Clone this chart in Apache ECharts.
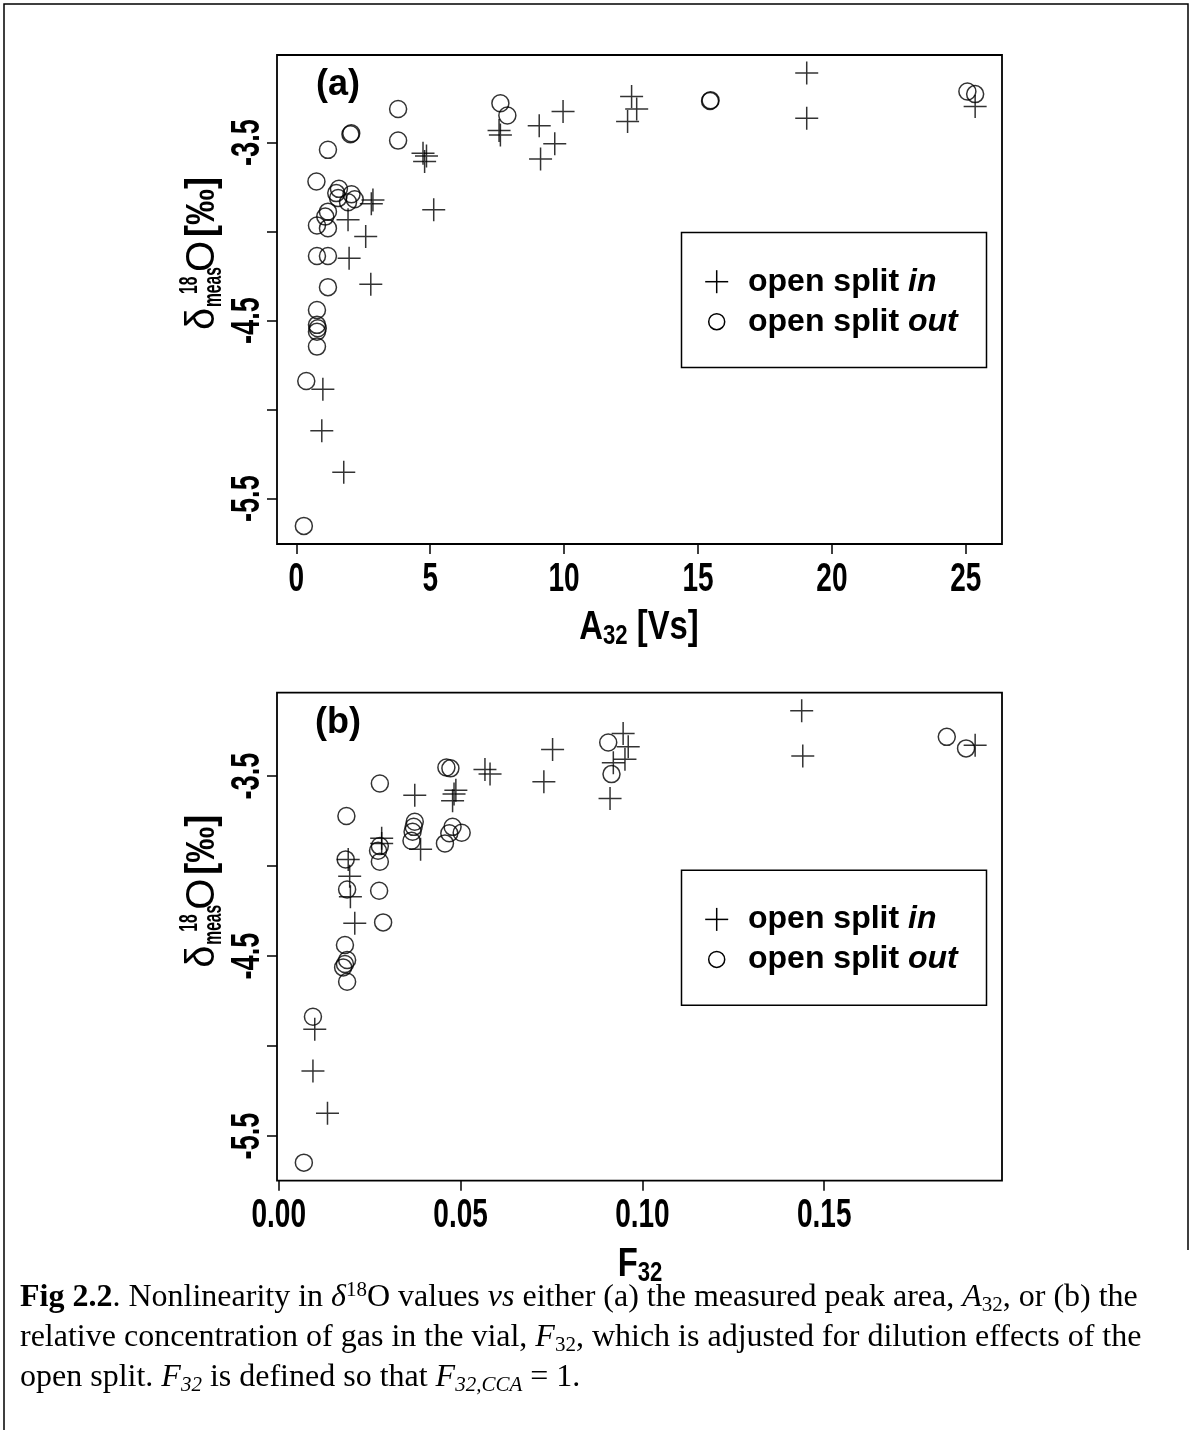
<!DOCTYPE html>
<html>
<head>
<meta charset="utf-8">
<title>Fig 2.2 – Nonlinearity in δ18O</title>
<script src="https://cdn.jsdelivr.net/npm/echarts@6/dist/echarts.min.js"></script>
<style>
  html, body { margin: 0; padding: 0; background: #fff; }
  #chart { width: 1192px; height: 1430px; }
</style>
</head>
<body>
<div id="chart"></div>
<script>
// ---- Panel (a): delta 18O against measured peak area A32 [Vs] ----
const A32_in = [9.96, 9.07, 9.65, 9.12, 7.57, 7.62, 4.73, 4.86, 4.79, 5.13, 2.86, 2.80,
  1.93, 2.59, 1.97, 2.78, 0.99, 0.95, 1.77, 12.52, 12.71, 12.37, 19.06, 19.06, 25.35];
const d18A_in = [-3.326, -3.406, -3.507, -3.593, -3.433, -3.457, -3.560, -3.575, -3.607, -3.878, -3.822, -3.844,
  -3.934, -4.028, -4.150, -4.296, -4.886, -5.118, -5.352, -3.242, -3.312, -3.382, -3.110, -3.363, -3.298];

const A32_out = [3.80, 7.62, 7.88, 2.02, 2.05, 3.80, 1.18, 0.75, 1.59, 1.49, 1.56, 2.06, 2.18, 1.93,
  1.18, 1.08, 0.77, 1.18, 0.77, 1.18, 1.18, 0.77, 0.77, 0.80, 0.77, 0.77, 0.37, 0.28,
  15.45, 15.47, 25.06, 25.35];
const d18A_out = [-3.312, -3.279, -3.348, -3.453, -3.448, -3.489, -3.541, -3.719, -3.760, -3.784, -3.812, -3.790, -3.818, -3.835,
  -3.888, -3.916, -3.966, -3.981, -4.137, -4.137, -4.312, -4.440, -4.524, -4.543, -4.562, -4.646, -4.839, -5.653,
  -3.266, -3.262, -3.213, -3.228];

// ---- Panel (b): delta 18O against relative gas concentration F32 ----
const F32_in = [0.0567, 0.0581, 0.0487, 0.0482, 0.0478, 0.0374, 0.0390, 0.0283, 0.0283, 0.0191, 0.0195, 0.0197,
  0.0209, 0.0099, 0.0094, 0.0134, 0.0753, 0.0729, 0.0947, 0.0961, 0.0952, 0.0920, 0.0911, 0.1438, 0.1441, 0.1915];
const d18F_in = [-3.463, -3.489, -3.578, -3.600, -3.637, -3.606, -3.907, -3.846, -3.874, -3.963, -4.056, -4.170,
  -4.318, -4.907, -5.139, -5.374, -3.352, -3.532, -3.263, -3.337, -3.407, -3.426, -3.624, -3.137, -3.389, -3.328];

const F32_out = [0.0461, 0.0472, 0.0278, 0.0186, 0.0374, 0.0371, 0.0368, 0.0365, 0.0478, 0.0503, 0.0469, 0.0457,
  0.0278, 0.0273, 0.0278, 0.0184, 0.0188, 0.0276, 0.0287, 0.0182, 0.0188, 0.0182, 0.0177, 0.0188, 0.0094, 0.0069,
  0.0906, 0.0915, 0.1837, 0.1890];
const d18F_out = [-3.452, -3.457, -3.541, -3.722, -3.754, -3.782, -3.809, -3.859, -3.782, -3.815, -3.818, -3.874,
  -3.889, -3.915, -3.976, -3.963, -4.130, -4.137, -4.313, -4.439, -4.522, -4.544, -4.563, -4.643, -4.837, -5.648,
  -3.313, -3.489, -3.282, -3.346];

// ---- Tick positions and labels ----
const xTicksA = [0, 5, 10, 15, 20, 25];
const xTickLabelsA = ['0', '5', '10', '15', '20', '25'];
const xTicksB = [0, 0.05, 0.10, 0.15];
const xTickLabelsB = ['0.00', '0.05', '0.10', '0.15'];
const yTicks = [-5.5, -5.0, -4.5, -4.0, -3.5];
const yLabelTicks = [-5.5, -4.5, -3.5];
const yTickLabels = ['-5.5', '-4.5', '-3.5'];

const legendNames = ['in', 'out'];

const SANS = '"Liberation Sans", Arial, Helvetica, sans-serif';
const SERIF = '"Liberation Serif", "Times New Roman", Times, serif';

// axis range padded by 4% on each side, as in base R plots
function padRange(vals) {
  const lo = Math.min(...vals), hi = Math.max(...vals), pad = 0.04 * (hi - lo);
  return [lo - pad, hi + pad];
}
const zip = (xs, ys) => xs.map((x, i) => [x, ys[i]]);

const xRangeA = padRange(A32_in.concat(A32_out));
const yRangeA = padRange(d18A_in.concat(d18A_out));
const xRangeB = padRange(F32_in.concat(F32_out));
const yRangeB = padRange(d18F_in.concat(d18F_out));

const PANEL_DY = 637.7;
const GRID_A = { left: 277, top: 55, width: 725, height: 489 };
const GRID_B = { left: 277, top: 55 + PANEL_DY, width: 725, height: 488 };

const markStyle = { color: 'rgba(0,0,0,0)', borderColor: '#000', borderWidth: 1.5 };
const plusSymbol = 'path://M10,0L10,20M0,10L20,10';

function gridOpt(g) {
  return Object.assign({
    show: true, borderColor: '#000', borderWidth: 1.8, backgroundColor: 'rgba(0,0,0,0)',
    containLabel: false, outerBoundsMode: 'none'
  }, g);
}
function axisOpt(gridIndex, range, ticks) {
  return {
    type: 'value', gridIndex, min: range[0], max: range[1], scale: true,
    axisLine: { show: false, onZero: false },
    axisTick: { show: true, inside: false, length: 10, customValues: ticks,
      lineStyle: { color: '#000', width: 1.5 } },
    axisLabel: { show: false },
    splitLine: { show: false }
  };
}
function scatter(name, xi, data, isPlus) {
  return {
    type: 'scatter', name, xAxisIndex: xi, yAxisIndex: xi, data,
    symbol: isPlus ? plusSymbol : 'circle',
    symbolSize: isPlus ? 23 : 17,
    itemStyle: markStyle,
    emphasis: { disabled: true },
    silent: true, z: 3
  };
}

const chart = echarts.init(document.getElementById('chart'), null, { renderer: 'canvas' });
chart.setOption({
  animation: false,
  backgroundColor: '#fff',
  grid: [gridOpt(GRID_A), gridOpt(GRID_B)],
  xAxis: [axisOpt(0, xRangeA, xTicksA), axisOpt(1, xRangeB, xTicksB)],
  yAxis: [axisOpt(0, yRangeA, yTicks), axisOpt(1, yRangeB, yTicks)],
  series: [
    scatter(legendNames[0], 0, zip(A32_in, d18A_in), true),
    scatter(legendNames[1], 0, zip(A32_out, d18A_out), false),
    scatter(legendNames[0], 1, zip(F32_in, d18F_in), true),
    scatter(legendNames[1], 1, zip(F32_out, d18F_out), false)
  ]
});

// ---- Texts and frames placed around the two panels ----
const txt = (text, x, y, font, extra) => Object.assign({
  type: 'text', x, y, silent: true,
  style: { text, fill: '#000', font, align: 'center', verticalAlign: 'middle',
           textAlign: 'center', textVerticalAlign: 'middle' }
}, extra || {});

const graphics = [];

// tick labels, placed through the axes' own scales
function tickLabels(axisIndex, xTicks, xTexts, dy) {
  xTicks.forEach((t, i) => {
    const px = chart.convertToPixel({ xAxisIndex: axisIndex }, t);
    graphics.push(txt(xTexts[i], px, 580 + dy, `bold 40px ${SANS}`, { scaleX: 0.7 }));
  });
  yLabelTicks.forEach((t, i) => {
    const py = chart.convertToPixel({ yAxisIndex: axisIndex }, t);
    graphics.push(txt(yTickLabels[i], 248, py, `bold 40px ${SANS}`, { scaleX: 0.68, rotation: Math.PI / 2 }));
  });
}
tickLabels(0, xTicksA, xTickLabelsA, 0);
tickLabels(1, xTicksB, xTickLabelsB, PANEL_DY - 2);

// y axis title: delta 18 meas O [permil], reading upwards
function yTitle(dy) {
  const left = (text, x, y, font, sx) => ({
    type: 'text', x, y, scaleX: sx || 1, silent: true,
    style: { text, fill: '#000', font, align: 'left', verticalAlign: 'middle',
             textAlign: 'left', textVerticalAlign: 'middle' }
  });
  return {
    type: 'group', x: 217, y: 330 + dy, rotation: Math.PI / 2, silent: true,
    children: [
      left('δ', 0, -14, `40px ${SANS}`),
      left('meas', 23, -3, `bold 26px ${SANS}`, 0.6),
      left('18', 36, -27, `bold 26px ${SANS}`, 0.6),
      left('O', 58, -14, `40px ${SANS}`),
      left('[‰]', 93, -14, `bold 40px ${SANS}`, 0.9)
    ]
  };
}
graphics.push(yTitle(0), yTitle(PANEL_DY));

// x axis titles
const xTitleRich = {
  n: { fontFamily: SANS, fontSize: 40, fontWeight: 'bold', lineHeight: 44 },
  s: { fontFamily: SANS, fontSize: 27, fontWeight: 'bold', lineHeight: 27, verticalAlign: 'bottom' }
};
graphics.push({
  type: 'text', x: 639, y: 628, scaleX: 0.82, silent: true,
  style: { text: '{n|A}{s|32}{n| [Vs]}', rich: xTitleRich, fill: '#000',
           align: 'center', verticalAlign: 'middle', textAlign: 'center', textVerticalAlign: 'middle' }
});
graphics.push({
  type: 'text', x: 640, y: 627 + PANEL_DY, scaleX: 0.82, silent: true,
  style: { text: '{n|F}{s|32}', rich: xTitleRich, fill: '#000',
           align: 'center', verticalAlign: 'middle', textAlign: 'center', textVerticalAlign: 'middle' }
});

// panel letters
graphics.push(txt('(a)', 338, 85, `bold 36px ${SANS}`));
graphics.push(txt('(b)', 338, 85 + PANEL_DY, `bold 36px ${SANS}`));

// legends
function legendBox(dy) {
  const legendRich = {
    b: { fontFamily: SANS, fontSize: 32, fontWeight: 'bold' },
    i: { fontFamily: SANS, fontSize: 32, fontWeight: 'bold', fontStyle: 'italic' }
  };
  const item = (label, y) => ({
    type: 'text', x: 748, y, silent: true,
    style: { text: `{b|open split }{i|${label}}`, rich: legendRich, fill: '#000',
             align: 'left', verticalAlign: 'middle', textAlign: 'left', textVerticalAlign: 'middle' }
  });
  const cx = 716.7, y1 = 281.7 + dy, y2 = 321.7 + dy;
  return [
    { type: 'rect', shape: { x: 681.5, y: 232.5 + dy, width: 305, height: 135 },
      style: { fill: 'rgba(0,0,0,0)', stroke: '#000', lineWidth: 1.5 }, silent: true },
    { type: 'line', shape: { x1: cx - 11.5, y1, x2: cx + 11.5, y2: y1 }, style: { stroke: '#000', lineWidth: 1.5 }, silent: true },
    { type: 'line', shape: { x1: cx, y1: y1 - 11.5, x2: cx, y2: y1 + 11.5 }, style: { stroke: '#000', lineWidth: 1.5 }, silent: true },
    { type: 'circle', shape: { cx, cy: y2, r: 8 }, style: { fill: 'rgba(0,0,0,0)', stroke: '#000', lineWidth: 1.5 }, silent: true },
    item(legendNames[0], y1),
    item(legendNames[1], y2)
  ];
}
graphics.push(...legendBox(0), ...legendBox(PANEL_DY));

// outer frame of the figure
graphics.push({
  type: 'polyline', silent: true,
  shape: { points: [[4, 1430], [4, 4], [1188, 4], [1188, 1250]] },
  style: { stroke: '#000', lineWidth: 1.5, fill: null }
});

// caption
const capRich = {
  r: { fontFamily: SERIF, fontSize: 32, lineHeight: 36 },
  b: { fontFamily: SERIF, fontSize: 32, lineHeight: 36, fontWeight: 'bold' },
  i: { fontFamily: SERIF, fontSize: 32, lineHeight: 36, fontStyle: 'italic' },
  sup: { fontFamily: SERIF, fontSize: 21, lineHeight: 21, verticalAlign: 'top' },
  sub: { fontFamily: SERIF, fontSize: 21, lineHeight: 21, verticalAlign: 'bottom' },
  subi: { fontFamily: SERIF, fontSize: 21, lineHeight: 21, verticalAlign: 'bottom', fontStyle: 'italic' }
};
const captionLines = [
  '{b|Fig 2.2}{r|. Nonlinearity in }{i|δ}{sup|18}{r|O values }{i|vs}{r| either (a) the measured peak area, }{i|A}{sub|32}{r|, or (b) the}',
  '{r|relative concentration of gas in the vial, }{i|F}{sub|32}{r|, which is adjusted for dilution effects of the}',
  '{r|open split. }{i|F}{subi|32}{r| is defined so that }{i|F}{subi|32,CCA}{r| = 1.}'
];
captionLines.forEach((line, k) => {
  graphics.push({
    type: 'text', x: 20, y: 1298 + 40 * k, silent: true,
    style: { text: line, rich: capRich, fill: '#000',
             align: 'left', verticalAlign: 'middle', textAlign: 'left', textVerticalAlign: 'middle' }
  });
});

chart.setOption({ graphic: { elements: graphics } });
</script>
</body>
</html>
